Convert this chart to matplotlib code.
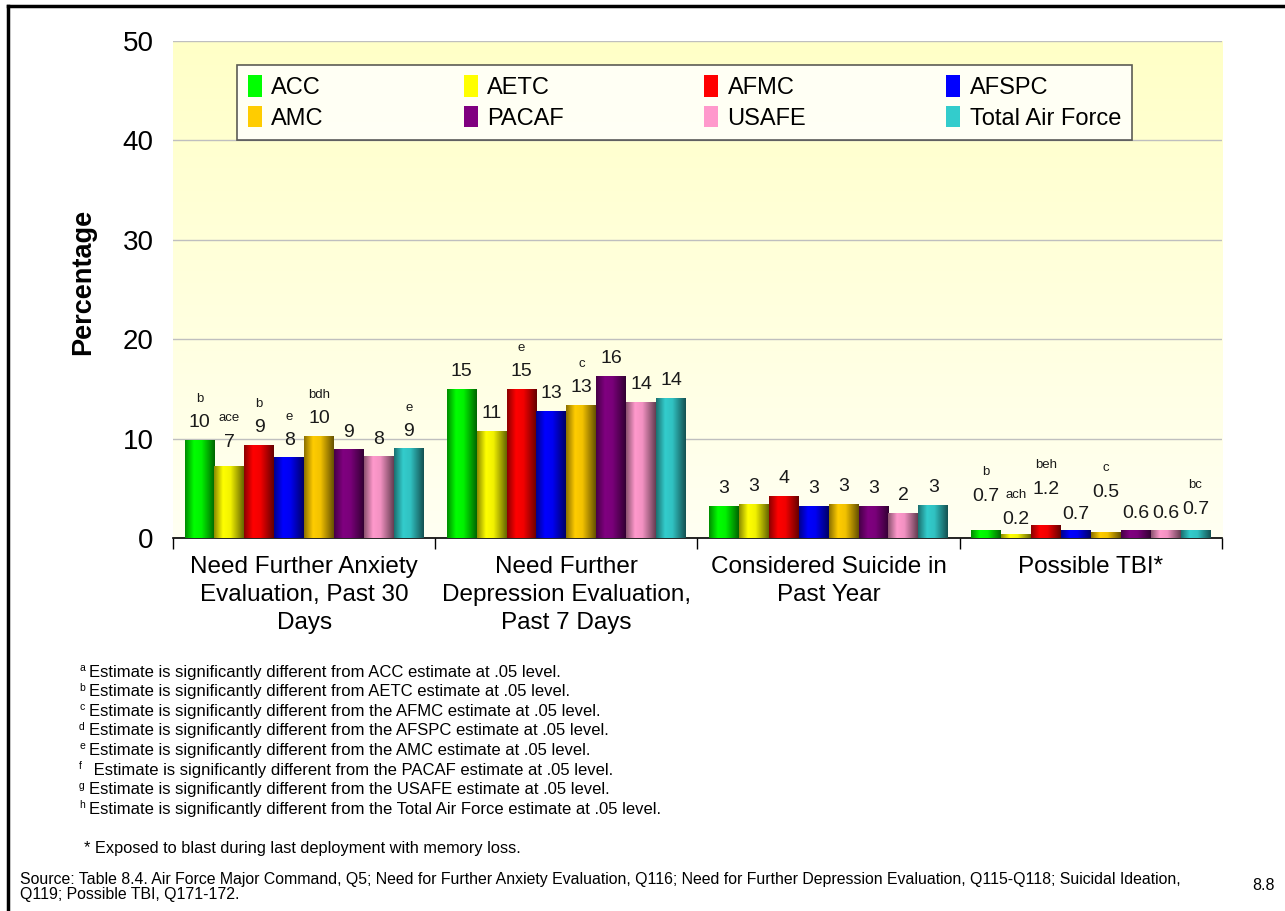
import numpy as np
import matplotlib
matplotlib.use('Agg')
import matplotlib.pyplot as plt
from matplotlib.patches import Patch
from matplotlib.lines import Line2D

plt.rcParams['font.family'] = ['Liberation Sans', 'DejaVu Sans']

# データ
categories = ['Need Further Anxiety\nEvaluation, Past 30\nDays',
              'Need Further\nDepression Evaluation,\nPast 7 Days',
              'Considered Suicide in\nPast Year',
              'Possible TBI*']
commands = ['ACC', 'AETC', 'AFMC', 'AFSPC', 'AMC', 'PACAF', 'USAFE', 'Total Air Force']

# 各コマンドの値（カテゴリ順）
acc = [9.8, 14.9, 3.2, 0.8]
aetc = [7.2, 10.7, 3.4, 0.4]
afmc = [9.3, 14.9, 4.2, 1.3]
afspc = [8.1, 12.7, 3.2, 0.8]
amc = [10.2, 13.3, 3.4, 0.6]
pacaf = [8.9, 16.2, 3.2, 0.8]
usafe = [8.2, 13.6, 2.5, 0.8]
total = [9.0, 14.0, 3.3, 0.8]
series = [acc, aetc, afmc, afspc, amc, pacaf, usafe, total]

# 表示ラベル
acc_lbl = ['10', '15', '3', '0.7']
aetc_lbl = ['7', '11', '3', '0.2']
afmc_lbl = ['9', '15', '4', '1.2']
afspc_lbl = ['8', '13', '3', '0.7']
amc_lbl = ['10', '13', '3', '0.5']
pacaf_lbl = ['9', '16', '3', '0.6']
usafe_lbl = ['8', '14', '2', '0.6']
total_lbl = ['9', '14', '3', '0.7']
labels = [acc_lbl, aetc_lbl, afmc_lbl, afspc_lbl, amc_lbl, pacaf_lbl, usafe_lbl, total_lbl]

# 有意差の記号
acc_sig = ['b', '', '', 'b']
aetc_sig = ['ace', '', '', 'ach']
afmc_sig = ['b', 'e', '', 'beh']
afspc_sig = ['e', '', '', '']
amc_sig = ['bdh', 'c', '', 'c']
pacaf_sig = ['', '', '', '']
usafe_sig = ['', '', '', '']
total_sig = ['e', '', '', 'bc']
sigs = [acc_sig, aetc_sig, afmc_sig, afspc_sig, amc_sig, pacaf_sig, usafe_sig, total_sig]

colors = ['#00FF00', '#FFFF00', '#FF0000', '#0000FF', '#FFCC00', '#800080', '#FF99CC', '#33CCCC']

# ラベル位置の調整（ピクセル）
num_off = [[18, 18, 18, 34], [24, 18, 18, 15], [18, 18, 18, 36], [17, 18, 18, 16],
           [18, 18, 18, 40], [17, 18, 18, 17], [17, 18, 18, 17], [17, 18, 18, 21]]

fig = plt.figure(figsize=(12.85, 9.11), dpi=100)
ax = fig.add_axes([0.1346, 0.4094, 0.8164, 0.5456])

# 背景グラデーション
bg = np.linspace(0, 1, 256).reshape(-1, 1)
top_c = np.array([1.0, 1.0, 0.78])
bot_c = np.array([1.0, 1.0, 0.95])
bg_img = bot_c * (1 - bg[..., None]) + top_c * bg[..., None]
bg_img = bg_img[::-1]
ax.imshow(bg_img, extent=(0, 1, 0, 1), transform=ax.transAxes, aspect='auto', zorder=0)

w = 0.114
x = np.arange(len(categories))
t = np.linspace(0, 1, 64)
shade = np.interp(t, [0, 0.3, 0.55, 1], [0.55, 1.0, 0.95, 0.4])

for j, vals in enumerate(series):
    xpos = x + (j - 3.5) * w
    base = np.array(matplotlib.colors.to_rgb(colors[j]))
    bars = ax.bar(xpos, vals, width=w, color=colors[j], zorder=2, linewidth=0)
    grad = (base[None, :] * shade[:, None]).reshape(1, -1, 3)
    for k, b in enumerate(bars):
        x0 = b.get_x()
        ax.imshow(grad, extent=(x0, x0 + w, 0, b.get_height()), aspect='auto',
                  zorder=3, interpolation='bilinear')
        ax.annotate(labels[j][k], (xpos[k], vals[k]), xytext=(0, num_off[j][k]),
                    textcoords='offset pixels', ha='center', va='center',
                    fontsize=14, color='#1a1a1a', zorder=5)
        if sigs[j][k]:
            ax.annotate(sigs[j][k], (xpos[k], vals[k]), xytext=(0, num_off[j][k] + 24),
                        textcoords='offset pixels', ha='center', va='center',
                        fontsize=9.5, color='#1a1a1a', zorder=5)

ax.set_xlim(-0.5, 3.5)
ax.set_ylim(0, 50)
ax.set_yticks([0, 10, 20, 30, 40, 50])
ax.yaxis.grid(True, color='#BFBFBF', linewidth=1)
ax.set_axisbelow(True)
ax.tick_params(axis='y', length=0, pad=14, labelsize=20)
ax.set_xticks(x)
ax.set_xticklabels(categories, fontsize=17.5, linespacing=1.36)
ax.tick_params(axis='x', length=0, pad=13)
ax.set_xticks(np.arange(-0.5, 4.0, 1.0), minor=True)
ax.tick_params(axis='x', which='minor', length=8, width=1, direction='out')
for s in ['top', 'right', 'left']:
    ax.spines[s].set_visible(False)
ax.spines['bottom'].set_linewidth(1.2)
ax.set_ylabel('Percentage', fontsize=19.5, fontweight='bold')
ax.yaxis.set_label_coords(-0.0735, 0.515)

# 凡例（行ごとの並び）
order = [0, 4, 1, 5, 2, 6, 3, 7]
handles = [Patch(facecolor=colors[i], edgecolor='none') for i in order]
leg = ax.legend(handles, [commands[i] for i in order], ncol=4, loc='upper left',
                bbox_to_anchor=(0.061, 0.952, 0.853, 0.0), mode='expand',
                borderaxespad=0, fontsize=17, frameon=True, fancybox=False,
                edgecolor='#333333', handlelength=0.6, handleheight=1.0,
                handletextpad=0.4, borderpad=0.45, labelspacing=0.3, columnspacing=1.0)
leg.get_frame().set_linewidth(1.2)

# 脚注
notes = [('a', 'Estimate is significantly different from ACC estimate at .05 level.'),
         ('b', 'Estimate is significantly different from AETC estimate at .05 level.'),
         ('c', 'Estimate is significantly different from the AFMC estimate at .05 level.'),
         ('d', 'Estimate is significantly different from the AFSPC estimate at .05 level.'),
         ('e', 'Estimate is significantly different from the AMC estimate at .05 level.'),
         ('f', ' Estimate is significantly different from the PACAF estimate at .05 level.'),
         ('g', 'Estimate is significantly different from the USAFE estimate at .05 level.'),
         ('h', 'Estimate is significantly different from the Total Air Force estimate at .05 level.')]
for i, (sup, txt) in enumerate(notes):
    ypx = 672 + i * 19.6
    fig.text(79 / 1285, 1 - (ypx - 4) / 911, sup, fontsize=7.5, va='center', ha='left')
    fig.text(89 / 1285, 1 - ypx / 911, txt, fontsize=12, va='center', ha='left')
fig.text(84 / 1285, 1 - 848 / 911, '* Exposed to blast during last deployment with memory loss.',
         fontsize=11.8, va='center', ha='left')
fig.text(20 / 1285, 1 - 887 / 911,
         'Source: Table 8.4. Air Force Major Command, Q5; Need for Further Anxiety Evaluation, Q116; '
         'Need for Further Depression Evaluation, Q115-Q118; Suicidal Ideation,\n'
         'Q119; Possible TBI, Q171-172.',
         fontsize=11.4, va='center', ha='left', linespacing=1.0)
fig.text(1252 / 1285, 1 - 886 / 911, '8.8', fontsize=11.5, va='center', ha='left')

# 枠線
fig.add_artist(Line2D([8 / 1285, 1.0], [1 - 6 / 911, 1 - 6 / 911], color='black', linewidth=2.5))
fig.add_artist(Line2D([8 / 1285, 8 / 1285], [1 - 6 / 911, 0.0], color='black', linewidth=2.5))

fig.savefig('out.png', dpi=100)
